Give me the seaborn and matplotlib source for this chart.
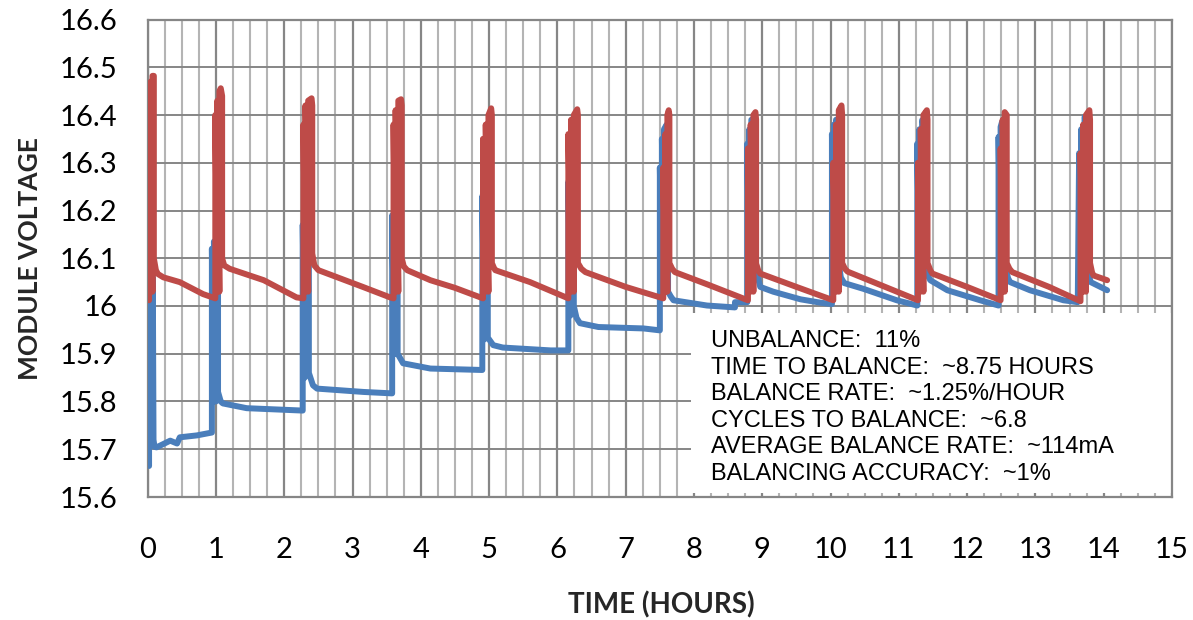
import matplotlib
matplotlib.use('Agg')
import matplotlib.pyplot as plt
from matplotlib.patches import Rectangle
import seaborn as sns
import numpy as np
import pandas as pd

# module voltage of the high cell (red) and low cell (blue)
red_t = [0.02, 0.02, 0.045, 0.045, 0.07, 0.07, 0.09, 0.09, 0.12, 0.15, 0.23, 0.47, 0.81, 0.99,
         0.99, 1.02, 1.02, 1.05, 1.05, 1.07, 1.09, 1.09, 1.12, 1.2, 1.7, 2.18, 2.28,
         2.28, 2.31, 2.31, 2.35, 2.35, 2.40, 2.41, 2.41, 2.44, 2.5, 3.15, 3.55, 3.6,
         3.6, 3.63, 3.63, 3.67, 3.67, 3.71, 3.72, 3.72, 3.75, 3.8, 4.14, 4.5, 4.91,
         4.91, 4.95, 4.95, 4.99, 4.99, 5.03, 5.04, 5.04, 5.07, 5.09, 5.6, 6.16,
         6.16, 6.2, 6.2, 6.24, 6.24, 6.29, 6.3, 6.3, 6.35, 6.41, 7.0, 7.55,
         7.55, 7.58, 7.58, 7.61, 7.61, 7.63, 7.64, 7.64, 7.68, 7.72, 8.2, 8.79,
         8.79, 8.83, 8.83, 8.87, 8.87, 8.9, 8.91, 8.91, 8.94, 8.97, 9.5, 10.04,
         10.04, 10.08, 10.08, 10.12, 10.12, 10.16, 10.17, 10.17, 10.21, 10.25, 10.8, 11.28,
         11.28, 11.32, 11.32, 11.36, 11.36, 11.41, 11.42, 11.42, 11.46, 11.49, 12.0, 12.49,
         12.49, 12.52, 12.52, 12.55, 12.55, 12.58, 12.58, 12.62, 12.66, 13.2, 13.66,
         13.66, 13.7, 13.7, 13.74, 13.74, 13.79, 13.8, 13.8, 13.83, 13.85, 14.05]
red_v = [16.012, 16.44, 16.03, 16.47, 16.03, 16.482, 16.482, 16.10, 16.075, 16.067, 16.06, 16.05, 16.025, 16.016,
         16.40, 16.03, 16.43, 16.03, 16.45, 16.456, 16.44, 16.10, 16.085, 16.078, 16.054, 16.018, 16.016,
         16.38, 16.03, 16.42, 16.03, 16.43, 16.435, 16.42, 16.11, 16.085, 16.075, 16.04, 16.018, 16.016,
         16.38, 16.03, 16.41, 16.03, 16.43, 16.433, 16.42, 16.10, 16.083, 16.075, 16.054, 16.038, 16.016,
         16.35, 16.03, 16.38, 16.03, 16.40, 16.414, 16.40, 16.09, 16.08, 16.075, 16.05, 16.016,
         16.36, 16.03, 16.39, 16.03, 16.40, 16.412, 16.40, 16.09, 16.078, 16.071, 16.04, 16.016,
         16.29, 16.03, 16.36, 16.03, 16.40, 16.41, 16.40, 16.09, 16.078, 16.071, 16.045, 16.012,
         16.33, 16.03, 16.38, 16.03, 16.40, 16.406, 16.39, 16.089, 16.075, 16.068, 16.04, 16.012,
         16.30, 16.03, 16.38, 16.03, 16.41, 16.42, 16.40, 16.09, 16.078, 16.072, 16.04, 16.012,
         16.30, 16.03, 16.37, 16.03, 16.40, 16.41, 16.39, 16.09, 16.075, 16.068, 16.04, 16.012,
         16.33, 16.03, 16.39, 16.03, 16.406, 16.40, 16.09, 16.078, 16.071, 16.04, 16.01,
         16.32, 16.03, 16.38, 16.03, 16.40, 16.41, 16.39, 16.09, 16.07, 16.064, 16.054]

blue_t = [0.02, 0.02, 0.05, 0.05, 0.075, 0.075, 0.085, 0.1, 0.13, 0.33, 0.43, 0.47, 0.72, 0.94,
          0.94, 0.97, 0.97, 1.0, 1.0, 1.03, 1.03, 1.07, 1.1, 1.45, 2.27,
          2.27, 2.3, 2.3, 2.33, 2.33, 2.36, 2.36, 2.42, 2.48, 3.16, 3.58,
          3.58, 3.61, 3.61, 3.64, 3.64, 3.66, 3.66, 3.74, 4.14, 4.9,
          4.9, 4.93, 4.93, 4.96, 4.96, 4.98, 4.98, 5.06, 5.2, 5.9, 6.16,
          6.16, 6.19, 6.19, 6.22, 6.22, 6.24, 6.24, 6.28, 6.33, 6.6, 7.26, 7.5,
          7.5, 7.53, 7.53, 7.56, 7.56, 7.6, 7.62, 7.62, 7.66, 7.7, 8.19, 8.6, 8.6, 8.78,
          8.78, 8.81, 8.81, 8.84, 8.84, 8.88, 8.9, 8.9, 8.97, 9.16, 9.56, 9.85, 10.02,
          10.02, 10.05, 10.05, 10.08, 10.08, 10.11, 10.11, 10.15, 10.2, 10.48, 10.97, 11.27,
          11.27, 11.3, 11.3, 11.34, 11.34, 11.39, 11.39, 11.42, 11.46, 11.71, 12.19, 12.46,
          12.46, 12.49, 12.49, 12.51, 12.56, 12.56, 12.6, 12.63, 12.92, 13.41, 13.62,
          13.64, 13.67, 13.67, 13.7, 13.72, 13.76, 13.76, 13.79, 13.81, 13.95, 14.05]
blue_v = [15.665, 16.07, 15.75, 16.065, 15.75, 16.06, 15.72, 15.705, 15.704, 15.718, 15.712, 15.725, 15.729, 15.735,
          16.12, 15.80, 16.135, 15.80, 16.14, 16.10, 15.82, 15.80, 15.796, 15.786, 15.781,
          16.17, 15.85, 16.173, 15.86, 16.16, 16.10, 15.86, 15.834, 15.827, 15.82, 15.817,
          16.19, 15.90, 16.20, 15.90, 16.18, 16.10, 15.90, 15.88, 15.869, 15.866,
          16.23, 15.93, 16.243, 15.94, 16.20, 16.10, 15.934, 15.918, 15.913, 15.907, 15.907,
          16.26, 15.98, 16.274, 16.00, 16.25, 16.10, 16.00, 15.975, 15.964, 15.956, 15.953, 15.949,
          16.29, 16.05, 16.35, 16.05, 16.37, 16.38, 16.30, 16.03, 16.02, 16.012, 16.001, 15.997, 16.008, 16.008,
          16.34, 16.05, 16.37, 16.05, 16.39, 16.39, 16.30, 16.08, 16.04, 16.03, 16.014, 16.007, 16.004,
          16.36, 16.05, 16.38, 16.05, 16.39, 16.36, 16.10, 16.06, 16.048, 16.036, 16.012, 16.001,
          16.34, 16.05, 16.37, 16.05, 16.389, 16.37, 16.096, 16.065, 16.054, 16.033, 16.012, 16.001,
          16.354, 16.05, 16.375, 16.385, 16.37, 16.081, 16.058, 16.05, 16.033, 16.012, 16.008,
          16.32, 16.05, 16.37, 16.05, 16.396, 16.38, 16.089, 16.06, 16.05, 16.04, 16.033]

notes = ['UNBALANCE:  11%',
         'TIME TO BALANCE:  ~8.75 HOURS',
         'BALANCE RATE:  ~1.25%/HOUR',
         'CYCLES TO BALANCE:  ~6.8',
         'AVERAGE BALANCE RATE:  ~114mA',
         'BALANCING ACCURACY:  ~1%']

x_ticks = list(range(0, 16))
y_ticks = [15.6, 15.7, 15.8, 15.9, 16.0, 16.1, 16.2, 16.3, 16.4, 16.5, 16.6]
y_labels = ['15.6', '15.7', '15.8', '15.9', '16', '16.1', '16.2', '16.3', '16.4', '16.5', '16.6']

red_df = pd.DataFrame({'t': red_t, 'v': red_v})
blue_df = pd.DataFrame({'t': blue_t, 'v': blue_v})

sns.set_style('white')
plt.rcParams['font.family'] = ['Lato', 'DejaVu Sans']

W, H = 1193, 620
fig = plt.figure(figsize=(W / 100, H / 100), dpi=100)
ax = fig.add_axes([147.7 / W, 1 - 497 / H, (1172 - 147.7) / W, (497 - 19.5) / H])

sns.lineplot(data=blue_df, x='t', y='v', sort=False, estimator=None,
             color='#4a7ebb', linewidth=4.3, ax=ax, zorder=3)
sns.lineplot(data=red_df, x='t', y='v', sort=False, estimator=None,
             color='#be4b48', linewidth=4.3, ax=ax, zorder=4)

ax.set_xlim(0, 15)
ax.set_ylim(15.6, 16.6)
ax.set_xticks(x_ticks)
ax.set_xticks(np.arange(0, 15.01, 0.25), minor=True)
ax.set_yticks(y_ticks)
ax.set_yticklabels(y_labels)
ax.grid(which='minor', axis='x', color='#b4b4b4', lw=1.5, zorder=0)
ax.grid(which='major', axis='x', color='#868686', lw=1.6, zorder=0)
ax.grid(which='major', axis='y', color='#868686', lw=1.4, zorder=0)
ax.set_axisbelow(True)
ax.tick_params(which='both', length=0)
ax.tick_params(axis='x', labelsize=21, pad=29, colors='black')
ax.tick_params(axis='y', labelsize=21, pad=22, colors='black')
for s in ax.spines.values():
    s.set_color('#868686')
    s.set_linewidth(1.6)
    s.set_visible(True)
ax.set_xlabel('')
ax.set_ylabel('')

# white box with the summary text
ax.add_patch(Rectangle((7.95, 15.609), 7.2, 0.376, facecolor='white',
                       edgecolor='none', zorder=2.5))
baselines = [347, 373.6, 400.2, 426.8, 453.4, 480]
for line, yb in zip(notes, baselines):
    fig.text(711 / W, 1 - yb / H, line, ha='left', va='baseline',
             fontsize=17, family='Liberation Sans', color='black', zorder=6)

fig.text(661 / W, 1 - 605 / H, 'TIME (HOURS)', ha='center', va='center',
         fontsize=20, weight='bold')
fig.text(30 / W, 1 - 259 / H, 'MODULE VOLTAGE', ha='center', va='center',
         rotation=90, fontsize=19, weight='bold')

fig.savefig('out.png', dpi=100)
